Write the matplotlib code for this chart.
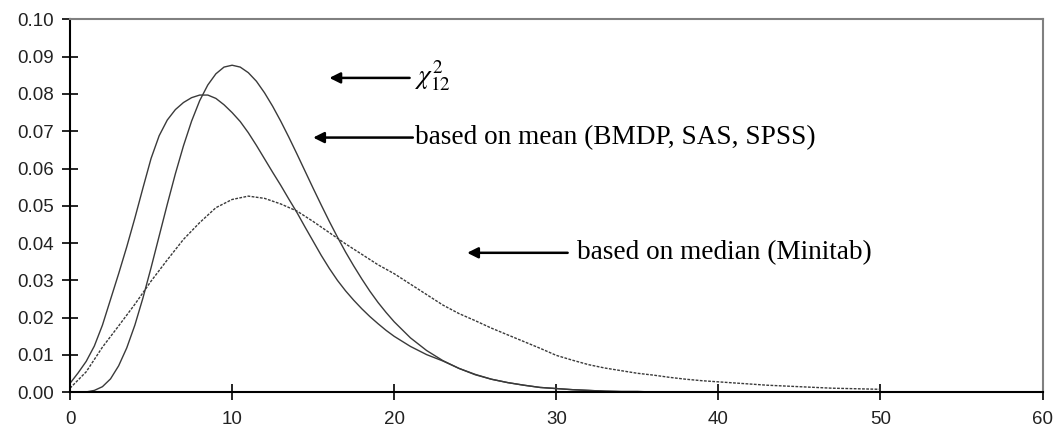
import matplotlib
matplotlib.use("Agg")
import matplotlib.pyplot as plt

# values (half steps where the curves bend most)
x_chi = [1, 1.5, 2, 2.5, 3, 3.5, 4, 4.5, 5, 5.5, 6, 6.5, 7, 7.5, 8, 8.5, 9, 9.5, 10, 10.5,
         11, 11.5, 12, 12.5, 13, 13.5, 14, 14.5, 15, 15.5, 16, 16.5, 17, 17.5, 18, 18.5,
         19, 19.5, 20, 21, 22, 23, 24, 25, 26, 27, 28, 29, 30, 31, 32, 33, 34, 35, 36]
chi2_12 = [0.0001, 0.0005, 0.0015, 0.0036, 0.0071, 0.0119, 0.0180, 0.0253, 0.0334, 0.0419,
           0.0504, 0.0586, 0.0661, 0.0727, 0.0782, 0.0824, 0.0854, 0.0872, 0.0877, 0.0872,
           0.0857, 0.0834, 0.0803, 0.0767, 0.0727, 0.0684, 0.0639, 0.0593, 0.0547, 0.0502,
           0.0458, 0.0416, 0.0376, 0.0339, 0.0304, 0.0271, 0.0241, 0.0214, 0.0189, 0.0146,
           0.0112, 0.0085, 0.0064, 0.0047, 0.0035, 0.0026, 0.0019, 0.0013, 0.0010, 0.0007,
           0.0005, 0.0003, 0.0002, 0.0002, 0.0001]

x_mean = [0, 0.5, 1, 1.5, 2, 2.5, 3, 3.5, 4, 4.5, 5, 5.5, 6, 6.5, 7, 7.5, 8, 8.5, 9, 9.5,
          10, 10.5, 11, 11.5, 12, 12.5, 13, 13.5, 14, 14.5, 15, 15.5, 16, 16.5, 17, 17.5,
          18, 18.5, 19, 19.5, 20, 21, 22, 23, 24, 25, 26, 27, 28, 29, 30, 31, 32, 33, 34,
          35, 36]
mean_based = [0.0024, 0.0052, 0.0083, 0.0124, 0.0180, 0.0249, 0.0318, 0.0390, 0.0467, 0.0548,
              0.0627, 0.0688, 0.0730, 0.0758, 0.0777, 0.0790, 0.0797, 0.0797, 0.0788, 0.0771,
              0.0750, 0.0726, 0.0696, 0.0662, 0.0626, 0.0590, 0.0555, 0.0518, 0.0482, 0.0443,
              0.0405, 0.0367, 0.0332, 0.0300, 0.0272, 0.0247, 0.0224, 0.0203, 0.0184, 0.0166,
              0.0150, 0.0123, 0.0101, 0.0084, 0.0064, 0.0048, 0.0035, 0.0026, 0.0019, 0.0013,
              0.0010, 0.0007, 0.0005, 0.0003, 0.0002, 0.0002, 0.0001]

x_median = list(range(0, 51))
median_based = [0.0011, 0.0055, 0.0121, 0.0178, 0.0236, 0.0298, 0.0355, 0.0410, 0.0455, 0.0495,
                0.0517, 0.0526, 0.0520, 0.0505, 0.0486, 0.0458, 0.0428, 0.0398, 0.0370, 0.0342,
                0.0318, 0.0290, 0.0262, 0.0234, 0.0211, 0.0192, 0.0172, 0.0154, 0.0136, 0.0118,
                0.0099, 0.0086, 0.0074, 0.0065, 0.0058, 0.0051, 0.0046, 0.0040, 0.0035, 0.0031,
                0.0028, 0.0025, 0.0022, 0.0019, 0.0017, 0.0015, 0.0013, 0.0011, 0.0010, 0.0009,
                0.0008]

labels = [r'$\chi^2_{12}$', 'based on mean (BMDP, SAS, SPSS)', 'based on median (Minitab)']

plt.rcParams['mathtext.fontset'] = 'stix'

fig = plt.figure(figsize=(10.56, 4.30), dpi=100)
ax = fig.add_axes([0.0663, 0.0877, 0.921, 0.8673])

line_col = '#3a3a3a'
ax.plot(x_chi, chi2_12, color=line_col, lw=1.0)
ax.plot(x_mean, mean_based, color=line_col, lw=1.0)
ax.plot(x_median, median_based, color=line_col, lw=1.0, linestyle=(0, (2, 1)))

ax.set_xlim(0, 60)
ax.set_ylim(0, 0.10)
ax.set_xticks(range(0, 61, 10))
ax.set_yticks([i / 100 for i in range(11)])
ax.set_yticklabels(['%.2f' % (i / 100) for i in range(11)])

for s in ['left', 'bottom']:
    ax.spines[s].set_color('black')
    ax.spines[s].set_linewidth(1.5)
for s in ['top', 'right']:
    ax.spines[s].set_color('#808080')
    ax.spines[s].set_linewidth(1.5)

ax.tick_params(axis='both', direction='inout', length=11, width=1.2, color='black',
               labelsize=13.5, labelcolor='#222222')
ax.tick_params(axis='y', pad=6)
ax.tick_params(axis='x', pad=8)
for lab in ax.get_xticklabels() + ax.get_yticklabels():
    lab.set_family('Liberation Sans')

# arrows with their labels
arrows = [((16.0, 0.0843), (20.95, 0.0843), (21.3, 0.0848)),
          ((15.0, 0.0683), (21.15, 0.0683), (21.3, 0.0683)),
          ((24.5, 0.0374), (30.7, 0.0374), (31.3, 0.0374))]
for (head, tail, tpos), lab in zip(arrows, labels):
    ax.annotate('', xy=head, xytext=tail,
                arrowprops=dict(arrowstyle='-|>', color='black', lw=1.8,
                                mutation_scale=16, shrinkA=0, shrinkB=0))
    ax.text(tpos[0], tpos[1], lab, family='Liberation Serif', fontsize=19.6,
            va='center', ha='left', color='black')

fig.savefig('out.png', dpi=100)
